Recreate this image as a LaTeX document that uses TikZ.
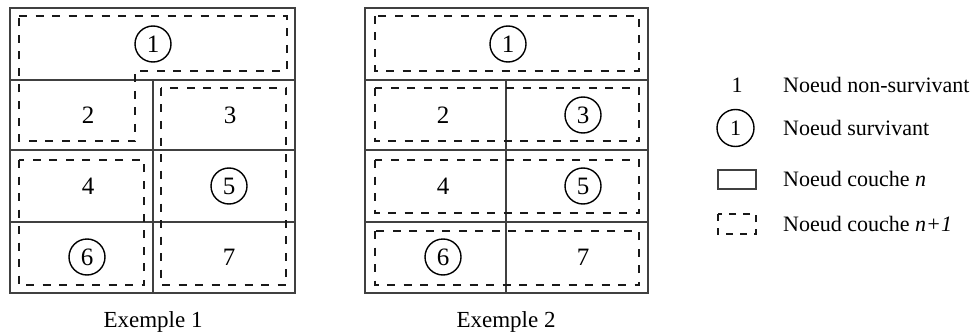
\documentclass[tikz,border=0pt]{standalone}
\usepackage{fontspec}
\setmainfont{Liberation Serif}
\begin{document}
\begin{tikzpicture}[x=1pt,y=-1pt,
  grid/.style={draw=black!75,line width=1.9pt},
  outer/.style={draw=black!75,line width=2.3pt},
  layer/.style={draw=black!90,line width=1.8pt,dash pattern=on 8pt off 8.5pt},
  smalllayer/.style={draw=black!90,line width=1.7pt,dash pattern=on 7pt off 7pt},
  num/.style={font=\fontsize{25}{25}\selectfont,inner sep=0pt},
  surv/.style={num,draw=black,line width=1.4pt,circle,minimum size=36pt},
  captext/.style={font=\fontsize{23}{23}\selectfont,inner sep=0pt},
  leg/.style={font=\fontsize{22}{22}\selectfont,anchor=west,inner sep=0pt}]
\useasboundingbox (0,0) rectangle (976,334);
% ---------- Exemple 1 ----------
\draw[outer] (10,8) rectangle (295,293);
\draw[grid] (10,80) -- (295,80) (10,150) -- (295,150) (10,222) -- (295,222)
            (153,80) -- (153,293);
\draw[layer] (19,16) -- (287,16) -- (287,71) -- (135,71) -- (135,141) -- (19,141) -- cycle;
\draw[layer] (161,88) rectangle (286,285);
\draw[layer] (19,160) rectangle (144,285);
\node[surv] (a1) at (153,44) {1};
\node[num] (a2) at (88,115) {2};
\node[num] (a3) at (230,115) {3};
\node[num] (a4) at (88,186) {4};
\node[surv] (a5) at (229,186) {5};
\node[surv] (a6) at (87,257) {6};
\node[num] (a7) at (229,257) {7};
\node[captext] (ex1) at (153,322) {Exemple 1};
% ---------- Exemple 2 ----------
\draw[outer] (365,8) rectangle (648,293);
\draw[grid] (365,80) -- (648,80) (365,150) -- (648,150) (365,222) -- (648,222)
            (506,80) -- (506,293);
\draw[layer] (375,16) rectangle (639,71);
\draw[layer] (375,88) rectangle (639,141);
\draw[layer] (375,160) rectangle (639,213);
\draw[layer] (375,231) rectangle (639,285);
\node[surv] (b1) at (508,44) {1};
\node[num] (b2) at (443,115) {2};
\node[surv] (b3) at (583,115) {3};
\node[num] (b4) at (443,186) {4};
\node[surv] (b5) at (583,186) {5};
\node[surv] (b6) at (443,257) {6};
\node[num] (b7) at (583,257) {7};
\node[captext] (ex2) at (506,322) {Exemple 2};
% ---------- Légende ----------
\node[num,font=\fontsize{22}{22}\selectfont] (l1) at (737,85) {1};
\node[surv,font=\fontsize{22}{22}\selectfont,minimum size=37pt] (l2) at (735.5,128) {1};
\draw[outer,line width=2pt] (718,169.5) rectangle (756,188.5);
\draw[smalllayer] (718,214) rectangle (756,234);
\node[leg] (t1) at (783,85) {Noeud non-survivant};
\node[leg] (t2) at (783,128) {Noeud survivant};
\node[leg] (t3) at (783,179) {Noeud couche \textit{n}};
\node[leg] (t4) at (783,224) {Noeud couche \textit{n+1}};
\end{tikzpicture}
\end{document}
